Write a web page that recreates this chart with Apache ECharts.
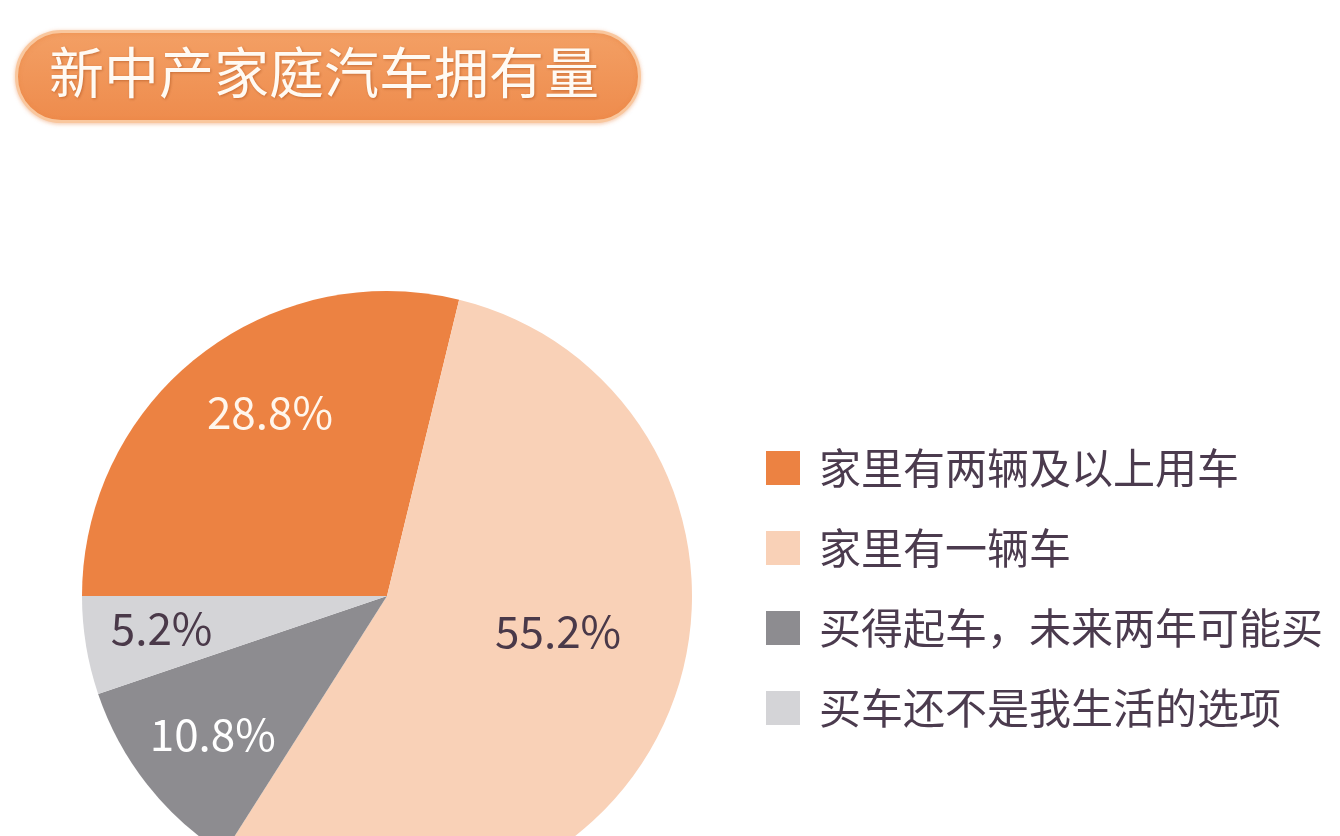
<!DOCTYPE html>
<html>
<head>
<meta charset="utf-8">
<script src="https://cdn.jsdelivr.net/npm/echarts@6/dist/echarts.min.js"></script>
<style>
html,body{margin:0;padding:0;background:#ffffff;}
#chart{width:1340px;height:836px;}
</style>
</head>
<body>
<div id="chart"></div>
<script>
const titleText = '新中产家庭汽车拥有量';
const categories = ['家里有两辆及以上用车', '家里有一辆车', '买得起车，未来两年可能买', '买车还不是我生活的选项'];
const values = [28.8, 55.2, 10.8, 5.2];
const colors = ['#EC8242', '#F9D1B7', '#8D8C90', '#D4D4D7'];
const labelColors = ['#FFF6EC', '#4A3949', '#FFFFFF', '#4A3949'];
const labelShift = [[-21, -61], [28, -26], [-52, 42], [-72, 7]];

const chart = echarts.init(document.getElementById('chart'));
const font = '"Noto Sans CJK SC", "Noto Sans", sans-serif';

const option = {
  backgroundColor: '#ffffff',
  animation: false,
  graphic: [
    {
      type: 'rect',
      left: 15, top: 30,
      shape: { width: 623, height: 90, r: 45 },
      style: {
        fill: new echarts.graphic.LinearGradient(0, 0, 0, 1, [
          { offset: 0, color: '#F3A065' },
          { offset: 1, color: '#EE8B4C' }
        ]),
        stroke: '#F9C79E',
        lineWidth: 3,
        shadowColor: 'rgba(230,120,50,0.35)',
        shadowBlur: 4,
        shadowOffsetY: 1
      }
    },
    {
      type: 'text',
      left: 49, top: 45,
      style: {
        text: titleText,
        font: 'normal 55px ' + font,
        fill: '#FFFAF3',
        textShadowColor: 'rgba(150,60,10,0.45)',
        textShadowBlur: 3,
        textShadowOffsetX: 1,
        textShadowOffsetY: 1
      }
    }
  ],
  legend: {
    orient: 'vertical',
    left: 761,
    top: 441,
    icon: 'rect',
    itemWidth: 34,
    itemHeight: 34,
    itemGap: 36,
    selectedMode: false,
    data: categories,
    textStyle: {
      fontFamily: font,
      fontSize: 42,
      lineHeight: 44,
      color: '#4B3B4E',
      padding: [0, 0, 0, 14]
    }
  },
  series: [{
    type: 'pie',
    center: [387, 596],
    radius: [0, 305],
    startAngle: 180,
    clockwise: true,
    silent: true,
    color: colors,
    data: categories.map((c, i) => ({
      name: c,
      value: values[i],
      label: { color: labelColors[i] }
    })),
    label: {
      show: true,
      position: 'inside',
      formatter: p => p.value.toFixed(1) + '%',
      fontFamily: font,
      fontSize: 44,
      fontWeight: 400
    },
    labelLine: { show: false },
    labelLayout: p => ({ dx: labelShift[p.dataIndex][0], dy: labelShift[p.dataIndex][1] }),
    itemStyle: { borderWidth: 0 }
  }]
};
chart.setOption(option);
</script>
</body>
</html>
